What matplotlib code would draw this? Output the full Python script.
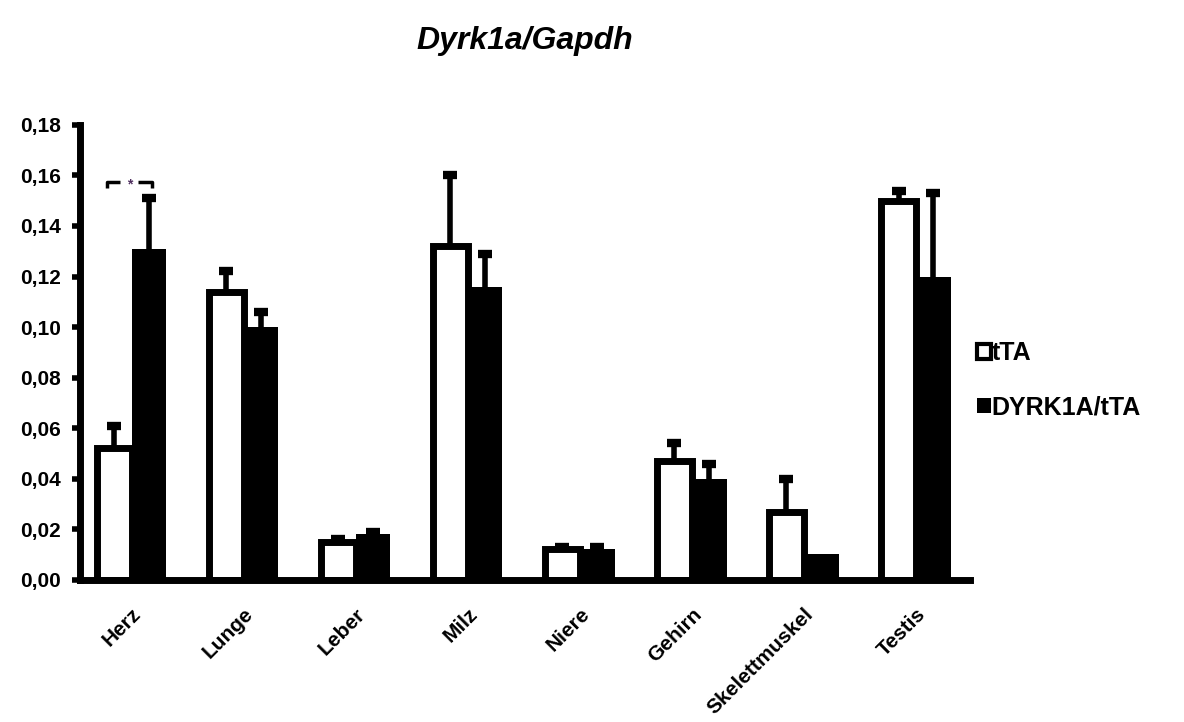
#!/usr/bin/env python3

import numpy as np
import matplotlib
matplotlib.use("Agg")
import matplotlib.pyplot as plt

plt.rcParams["font.family"] = ["Liberation Sans", "DejaVu Sans"]

tissues = ["Herz", "Lunge", "Leber", "Milz", "Niere", "Gehirn",
           "Skelettmuskel", "Testis"]
tta = [0.052, 0.114, 0.015, 0.132, 0.012, 0.047, 0.027, 0.150]
tta_err = [0.009, 0.008, 0.001, 0.028, 0.001, 0.007, 0.013, 0.004]
dyrk = [0.131, 0.100, 0.018, 0.116, 0.012, 0.040, 0.010, 0.120]
dyrk_err = [0.020, 0.006, 0.001, 0.013, 0.001, 0.006, np.nan, 0.033]
yticks = [0.00, 0.02, 0.04, 0.06, 0.08, 0.10, 0.12, 0.14, 0.16, 0.18]

fig = plt.figure(figsize=(11.84, 7.22), dpi=100)
ax = fig.add_axes([0.0676, 0.197, 0.7514, 0.630])

x = np.arange(len(tissues))
w = 0.31

ax.bar(x - w / 2, tta, w, color="white", edgecolor="black", linewidth=5,
       label="tTA", zorder=2)
ax.bar(x + w / 2, dyrk, w, color="black", edgecolor="black", linewidth=0,
       label="DYRK1A/tTA", zorder=2)

for xs, vals, errs in [(x - w / 2, tta, tta_err), (x + w / 2, dyrk, dyrk_err)]:
    eb = ax.errorbar(xs, vals, yerr=[np.zeros(len(vals)), errs], fmt="none",
                     ecolor="black", elinewidth=4, capsize=5, capthick=6,
                     zorder=3)
    # only the upper caps
    eb[1][0].set_visible(False)

# significance bracket for Herz
bx0, bx1, by = x[0] - 0.22, x[0] + 0.18, 0.1575
ax.plot([bx0, bx0, bx0 + 0.12], [by - 0.0025, by, by], color="black", lw=2.5,
        solid_capstyle="butt")
ax.plot([bx1 - 0.12, bx1, bx1], [by, by, by - 0.0025], color="black", lw=2.5,
        solid_capstyle="butt")
ax.text((bx0 + bx1) / 2, by - 0.001, "*", ha="center", va="center",
        fontsize=10, fontweight="bold", color="#503060")

ax.set_xlim(-0.46, len(tissues) - 1 + 0.48)
ax.set_ylim(0, 0.18)
ax.set_yticks(yticks)
ax.set_yticklabels([f"{v:.2f}".replace(".", ",") for v in yticks],
                   fontsize=15, fontweight="bold")
ax.set_xticks(x)
ax.set_xticklabels(tissues, rotation=45, ha="right", rotation_mode="anchor",
                   fontsize=15, fontweight="bold")
ax.tick_params(axis="x", length=0, pad=18)
ax.tick_params(axis="y", length=6, width=4, direction="out", pad=8)

for side in ["top", "right"]:
    ax.spines[side].set_visible(False)
for side in ["left", "bottom"]:
    ax.spines[side].set_linewidth(5)

ax.set_title("Dyrk1a/Gapdh", fontsize=23, fontweight="bold", style="italic",
             pad=55)

leg = ax.legend(loc="center left", bbox_to_anchor=(0.806, 0.473),
                bbox_transform=fig.transFigure, frameon=False,
                prop={"size": 18, "weight": "bold"}, handlelength=0.55,
                handleheight=0.55, handletextpad=0.05, labelspacing=1.2)
leg.legend_handles[0].set_linewidth(3)

fig.savefig("out.png", dpi=100)
